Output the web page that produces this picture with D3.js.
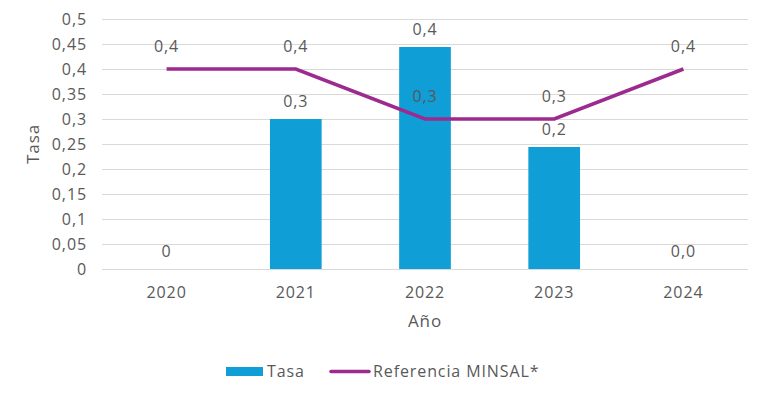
<!DOCTYPE html>
<html lang="es">
<head>
  <meta charset="UTF-8">
  <title>Tasa</title>
  <script src="https://d3js.org/d3.v7.min.js"></script>
  <style>
    body { margin: 0; background: #fff; }
    text { font-family: "Open Sans", sans-serif; fill: #595959; letter-spacing: 0.9px; }
  </style>
</head>
<body>
  <svg width="765" height="397" id="chart"></svg>
  <script>
    const years = ['2020', '2021', '2022', '2023', '2024'];
    const tasa = [0, 0.3, 0.444, 0.244, 0];
    const tasaLabels = ['0', '0,3', '0,4', '0,2', '0,0'];
    const referencia = [0.4, 0.4, 0.3, 0.3, 0.4];
    const refLabels = ['0,4', '0,4', '0,3', '0,3', '0,4'];
    const yTicks = [0, 0.05, 0.1, 0.15, 0.2, 0.25, 0.3, 0.35, 0.4, 0.45, 0.5];

    const barColor = '#109ed6';
    const lineColor = '#9c2a8f';

    const svg = d3.select('#chart');
    const margin = { top: 19, right: 17, bottom: 128, left: 102 };
    const innerWidth = 765 - margin.left - margin.right;
    const innerHeight = 397 - margin.top - margin.bottom;

    const x = d3.scaleBand()
      .domain(years)
      .range([0, innerWidth])
      .paddingInner(0.6)
      .paddingOuter(0.3);

    const y = d3.scaleLinear()
      .domain([0, 0.5])
      .range([innerHeight, 0]);

    const g = svg.append('g')
      .attr('transform', `translate(${margin.left}, ${margin.top})`);

    // eje y con lineas de cuadricula
    const yAxis = d3.axisLeft(y)
      .tickValues(yTicks)
      .tickSize(-innerWidth)
      .tickPadding(15)
      .tickFormat(d => String(+d.toFixed(2)).replace('.', ','));
    const yg = g.append('g').call(yAxis);
    yg.select('.domain').remove();
    yg.selectAll('.tick line').attr('stroke', '#d9d9d9').attr('stroke-width', 1);
    yg.selectAll('.tick text').attr('font-size', 16).style('fill', '#595959');

    // eje x
    const xg = g.append('g')
      .attr('transform', `translate(0, ${innerHeight})`)
      .call(d3.axisBottom(x).tickSize(0).tickPadding(18));
    xg.select('.domain').remove();
    xg.selectAll('.tick text').attr('font-size', 16).style('fill', '#595959');

    const cx = d => x(d) + x.bandwidth() / 2;

    // barras
    g.selectAll('.bar')
      .data(years)
      .join('rect')
      .attr('class', 'bar')
      .attr('x', d => x(d))
      .attr('width', x.bandwidth())
      .attr('y', (d, i) => y(tasa[i]))
      .attr('height', (d, i) => innerHeight - y(tasa[i]))
      .attr('fill', barColor);

    // linea referencia
    const line = d3.line()
      .x((d, i) => cx(years[i]))
      .y(d => y(d));
    g.append('path')
      .datum(referencia)
      .attr('d', line)
      .attr('fill', 'none')
      .attr('stroke', lineColor)
      .attr('stroke-width', 3.5);

    // etiquetas
    g.selectAll('.bar-label')
      .data(years)
      .join('text')
      .attr('x', d => cx(d))
      .attr('y', (d, i) => y(tasa[i]) - 12)
      .attr('text-anchor', 'middle')
      .attr('font-size', 16)
      .text((d, i) => tasaLabels[i]);

    g.selectAll('.ref-label')
      .data(years)
      .join('text')
      .attr('x', d => cx(d))
      .attr('y', (d, i) => y(referencia[i]) - 17)
      .attr('text-anchor', 'middle')
      .attr('font-size', 16)
      .text((d, i) => refLabels[i]);

    // titulos de ejes
    g.append('text')
      .attr('x', innerWidth / 2)
      .attr('y', innerHeight + 58)
      .attr('text-anchor', 'middle')
      .attr('font-size', 17)
      .text('Año');

    svg.append('text')
      .attr('transform', `translate(39, ${margin.top + innerHeight / 2}) rotate(-90)`)
      .attr('text-anchor', 'middle')
      .attr('font-size', 17)
      .text('Tasa');

    // leyenda
    const lg = svg.append('g');
    lg.append('rect')
      .attr('x', 226).attr('y', 367)
      .attr('width', 37).attr('height', 9)
      .attr('fill', barColor);
    lg.append('text')
      .attr('x', 267).attr('y', 377)
      .attr('font-size', 16)
      .text('Tasa');
    lg.append('line')
      .attr('x1', 331).attr('x2', 369)
      .attr('y1', 371.5).attr('y2', 371.5)
      .attr('stroke', lineColor)
      .attr('stroke-width', 3.5)
      .attr('stroke-linecap', 'round');
    lg.append('text')
      .attr('x', 373).attr('y', 377)
      .attr('font-size', 16)
      .text('Referencia MINSAL*');
  </script>
</body>
</html>
